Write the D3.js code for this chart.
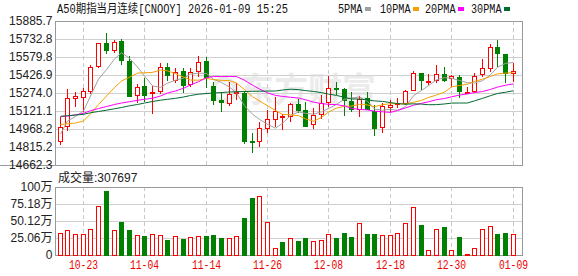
<!DOCTYPE html>
<html lang="zh">
<head>
    <meta charset="UTF-8">
    <title>A50期指当月连续</title>
    <script src="https://d3js.org/d3.v7.min.js"></script>
    <style>
        body {
            margin: 0;
            background-color: #ffffff;
        }
        svg {
            display: block;
        }
        .axis-label {
            font-family: "Liberation Sans", "Noto Sans CJK SC", sans-serif;
            font-size: 12px;
            fill: #222;
        }
        .mono {
            font-family: "Liberation Mono", "Noto Sans CJK SC", monospace;
        }
    </style>
</head>
<body>
    <div id="chart"></div>
    <script>
        // trading days shown on the chart
        const dates = [
            "2025-10-20", "2025-10-21", "2025-10-22", "2025-10-23", "2025-10-24", "2025-10-27", "2025-10-28", "2025-10-29",
            "2025-10-30", "2025-10-31", "2025-11-03", "2025-11-04", "2025-11-05", "2025-11-06", "2025-11-07", "2025-11-10",
            "2025-11-11", "2025-11-12", "2025-11-13", "2025-11-14", "2025-11-17", "2025-11-18", "2025-11-19", "2025-11-20",
            "2025-11-21", "2025-11-24", "2025-11-25", "2025-11-26", "2025-11-27", "2025-11-28", "2025-12-01", "2025-12-02",
            "2025-12-03", "2025-12-04", "2025-12-05", "2025-12-08", "2025-12-09", "2025-12-10", "2025-12-11", "2025-12-12",
            "2025-12-15", "2025-12-16", "2025-12-17", "2025-12-18", "2025-12-19", "2025-12-22", "2025-12-23", "2025-12-24",
            "2025-12-25", "2025-12-26", "2025-12-29", "2025-12-30", "2025-12-31", "2026-01-01", "2026-01-02", "2026-01-05",
            "2026-01-06", "2026-01-07", "2026-01-08", "2026-01-09"
        ];

        const opens = [
            14860.2, 14987.7, 15234.1, 15242.6, 15285.0, 15497.4, 15696.2, 15633.4, 15715.8, 15548.4,
            15259.5, 15333.5, 15271.4, 15291.0, 15492.3, 15390.4, 15460.9, 15350.5, 15455.0, 15545.9,
            15333.5, 15214.5, 15191.6, 15276.5, 15276.5, 14866.2, 14860.2, 14982.6, 15059.0, 15078.6,
            15078.6, 15180.5, 15129.6, 15010.6, 15093.0, 15191.6, 15313.9, 15305.4, 15203.5, 15144.0,
            15229.0, 15123.6, 14982.6, 15157.6, 15178.0, 15195.0, 15299.5, 15441.4, 15373.4, 15384.4,
            15432.9, 15398.9, 15407.4, 15279.9, 15293.5, 15432.9, 15492.3, 15662.3, 15605.3, 15446.5
        ];
        const highs = [
            15072.6, 15308.0, 15285.0, 15319.0, 15511.9, 15701.3, 15781.2, 15724.3, 15732.8, 15588.3,
            15347.9, 15398.9, 15333.5, 15526.3, 15526.3, 15483.8, 15483.8, 15483.8, 15588.3, 15577.3,
            15370.0, 15285.0, 15370.0, 15356.4, 15293.5, 14931.6, 15030.2, 15129.6, 15242.6, 15095.6,
            15191.6, 15220.5, 15200.1, 15144.0, 15257.0, 15418.4, 15370.0, 15313.9, 15285.0, 15248.5,
            15285.0, 15172.0, 15186.5, 15214.5, 15229.0, 15299.5, 15460.9, 15446.5, 15435.4, 15511.9,
            15492.3, 15426.9, 15426.9, 15327.5, 15446.5, 15560.3, 15690.3, 15724.3, 15605.3, 15526.3
        ];
        const lows = [
            14832.2, 14951.1, 15152.5, 15115.1, 15265.5, 15488.9, 15605.3, 15611.3, 15511.9, 15248.5,
            15186.5, 15200.1, 15095.6, 15265.5, 15378.5, 15356.4, 15276.5, 15327.5, 15407.4, 15313.9,
            15172.0, 15115.1, 15163.5, 15214.5, 14840.7, 14766.8, 14812.7, 14936.7, 14982.6, 14959.6,
            15030.2, 15101.5, 14993.6, 14965.6, 15050.5, 15157.6, 15257.0, 15078.6, 15115.1, 15072.6,
            15129.6, 14908.7, 14931.6, 15115.1, 15144.0, 15172.0, 15293.5, 15299.5, 15342.0, 15356.4,
            15370.0, 15327.5, 15229.0, 15271.4, 15276.5, 15407.4, 15455.0, 15497.4, 15361.5, 15370.0
        ];
        const closes = [
            14982.6, 15229.0, 15248.5, 15291.0, 15492.3, 15696.2, 15633.4, 15704.7, 15554.4, 15251.0,
            15327.5, 15257.0, 15282.5, 15492.3, 15426.9, 15455.0, 15342.0, 15455.0, 15534.8, 15412.5,
            15214.5, 15195.0, 15265.5, 15285.0, 14868.7, 14855.1, 14974.1, 15055.6, 15123.6, 15078.6,
            15180.5, 15129.6, 14993.6, 15084.5, 15186.5, 15313.9, 15308.0, 15214.5, 15135.5, 15225.6,
            15135.5, 14979.2, 15163.5, 15172.0, 15186.5, 15293.5, 15441.4, 15384.4, 15378.5, 15432.9,
            15384.4, 15418.4, 15285.0, 15285.0, 15421.0, 15483.8, 15667.4, 15607.9, 15446.5, 15460.9
        ];
        const volumes = [
            320000, 364000, 305000, 305000, 379000, 722000, 943000, 364000, 486000, 369000,
            290000, 280000, 305000, 290000, 221000, 275000, 236000, 265000, 280000, 280000,
            295000, 251000, 251000, 280000, 550000, 840000, 865000, 482000, 103000, 192000,
            251000, 206000, 251000, 206000, 217000, 305000, 251000, 324000, 265000, 467000,
            305000, 305000, 290000, 290000, 320000, 467000, 703000, 438000, 69000, 379000,
            413000, 69000, 265000, 10000, 99000, 379000, 423000, 305000, 324000, 307697
        ];

        // moving-average values before each window is filled by the visible closes
        const ma5Lead = [14925.7, 15036.1, 15074.3, 15121.1];
        const ma10Lead = [15006.4, 15012.3, 15019.1, 15036.1, 15095.6, 15176.3, 15248.5, 15320.7, 15375.9];
        const ma20Lead = [
            15072.6, 15078.6, 15087.1, 15101.5, 15123.6, 15142.3, 15159.3, 15176.3, 15189.0, 15200.1,
            15212.0, 15220.5, 15229.0, 15248.5, 15274.0, 15291.0, 15313.9, 15342.0, 15370.0
        ];
        const ma30Lead = [
            15076.0, 15081.1, 15087.1, 15093.0, 15106.6, 15116.8, 15127.9, 15139.8, 15150.8, 15165.2,
            15176.3, 15189.0, 15201.8, 15212.8, 15220.5, 15229.0, 15240.0, 15252.7, 15263.8, 15269.7,
            15274.0, 15278.2, 15282.5, 15285.0, 15286.7, 15288.4, 15289.3, 15290.1, 15291.0
        ];

        const priceTicks = ["14662.3", "14815.2", "14968.2", "15121.1", "15274.0", "15426.9", "15579.8", "15732.8", "15885.7"];
        const volumeTicks = [0, 250600, 501200, 751800, 1002400];
        const volumeTickLabels = ["0", "25.06万", "50.12万", "75.18万", "100万"];
        const dateLabels = ["10-23", "11-04", "11-14", "11-26", "12-08", "12-18", "12-30", "01-09"];

        const maNames = ["5PMA", "10PMA", "20PMA", "30PMA"];
        const maPeriods = [5, 10, 20, 30];
        const maColors = ["#a0a0a0", "#f5a000", "#ff00ff", "#006a30"];

        const RED = "#ff0000", GREEN = "#008000";
        const W = 578, H = 276;
        const plotL = 55, plotR = 522;
        const priceTop = 21, priceBottom = 165;
        const volTop = 187, volBottom = 255;

        const svg = d3.select("#chart").append("svg")
            .attr("width", W)
            .attr("height", H);

        const x = d3.scaleBand().domain(dates).range([56.46, 516.96]);
        const cx = d => Math.floor(x(d) + x.bandwidth() / 2);

        const y = d3.scaleLinear()
            .domain([+priceTicks[0], +priceTicks[priceTicks.length - 1]])
            .range([priceBottom, priceTop]);
        const yv = d3.scaleLinear()
            .domain([0, volumeTicks[volumeTicks.length - 1]])
            .range([volBottom, volTop]);

        const candles = dates.map((d, i) => ({
            date: d, open: opens[i], high: highs[i], low: lows[i], close: closes[i], volume: volumes[i],
            up: closes[i] >= opens[i],
            volUp: closes[i] > opens[i] || (closes[i] === opens[i] && (i === 0 || closes[i] >= closes[i - 1]))
        }));

        // title and legend
        svg.append("text")
            .attr("class", "mono")
            .attr("x", 57).attr("y", 13)
            .attr("font-size", 12)
            .attr("textLength", 231)
            .attr("lengthAdjust", "spacingAndGlyphs")
            .attr("fill", "#111")
            .text("A50期指当月连续[CNOOY] 2026-01-09 15:25");

        const legendX = [338, 380, 425, 471];
        const legend = svg.append("g");
        maNames.forEach((name, i) => {
            legend.append("text")
                .attr("class", "mono")
                .attr("x", legendX[i]).attr("y", 12.5)
                .attr("font-size", 12)
                .attr("textLength", name.length * 6.1)
                .attr("lengthAdjust", "spacingAndGlyphs")
                .attr("fill", "#111")
                .text(name);
            legend.append("rect")
                .attr("x", legendX[i] + name.length * 6.1 + 2.5).attr("y", 7)
                .attr("width", 6).attr("height", 4)
                .attr("fill", maColors[i]);
        });

        // grid
        const grid = svg.append("g");
        priceTicks.forEach(t => {
            grid.append("line")
                .attr("x1", plotL).attr("x2", plotR)
                .attr("y1", Math.round(y(+t)) + 0.5).attr("y2", Math.round(y(+t)) + 0.5)
                .attr("stroke", "#d0d0d0");
        });
        volumeTicks.forEach(t => {
            grid.append("line")
                .attr("x1", plotL).attr("x2", plotR)
                .attr("y1", Math.round(yv(t)) + 0.5).attr("y2", Math.round(yv(t)) + 0.5)
                .attr("stroke", "#d0d0d0");
        });
        const labelDates = dates.filter(d => dateLabels.includes(d.slice(5)));
        labelDates.forEach(d => {
            [[priceTop, priceBottom], [volTop, volBottom]].forEach(([a, b]) => {
                grid.append("line")
                    .attr("x1", cx(d) + 0.5).attr("x2", cx(d) + 0.5)
                    .attr("y1", a).attr("y2", b)
                    .attr("stroke", "#c8c8c8")
                    .attr("stroke-dasharray", "4,3");
            });
        });

        // watermark
        const mark = svg.append("g").attr("opacity", 0.55);
        mark.append("circle")
            .attr("cx", 224).attr("cy", 90).attr("r", 11)
            .attr("fill", "none").attr("stroke", "#dcdcdc").attr("stroke-width", 5);
        mark.append("text")
            .attr("x", 240).attr("y", 102)
            .attr("font-family", "Noto Sans CJK SC")
            .attr("font-size", 34)
            .attr("font-weight", "bold")
            .attr("fill", "#dcdcdc")
            .text("东方财富");

        // borders
        svg.append("rect")
            .attr("x", plotL + 0.5).attr("y", priceTop + 0.5)
            .attr("width", plotR - plotL).attr("height", priceBottom - priceTop)
            .attr("fill", "none").attr("stroke", "#999");
        svg.append("line")
            .attr("x1", 0).attr("x2", plotR + 0.5)
            .attr("y1", priceBottom + 0.5).attr("y2", priceBottom + 0.5)
            .attr("stroke", "#999");
        svg.append("rect")
            .attr("x", plotL + 0.5).attr("y", volTop + 0.5)
            .attr("width", plotR - plotL).attr("height", volBottom - volTop)
            .attr("fill", "none").attr("stroke", "#999");

        // axis labels
        priceTicks.forEach(t => {
            svg.append("text")
                .attr("class", "axis-label")
                .attr("x", 52.5).attr("y", y(+t))
                .attr("dy", "0.36em")
                .attr("text-anchor", "end")
                .text(t);
        });
        volumeTicks.forEach((t, i) => {
            svg.append("text")
                .attr("class", "axis-label")
                .attr("x", 52.5).attr("y", yv(t))
                .attr("dy", "0.36em")
                .attr("text-anchor", "end")
                .text(volumeTickLabels[i]);
        });
        labelDates.forEach((d, i) => {
            svg.append("text")
                .attr("class", "mono")
                .attr("x", cx(d) + 0.5).attr("y", 269)
                .attr("font-size", 12)
                .attr("text-anchor", "middle")
                .attr("textLength", 29)
                .attr("lengthAdjust", "spacingAndGlyphs")
                .attr("fill", "#ee0000")
                .text(d.slice(5));
        });

        svg.append("text")
            .attr("class", "axis-label")
            .attr("x", 58).attr("y", 182)
            .attr("fill", "#111")
            .text("成交量:" + volumes[volumes.length - 1]);

        // candlesticks
        const candle = svg.append("g").selectAll("g")
            .data(candles)
            .enter().append("g");

        candle.append("line")
            .attr("x1", d => cx(d.date) + 0.5).attr("x2", d => cx(d.date) + 0.5)
            .attr("y1", d => Math.round(y(d.high))).attr("y2", d => Math.round(y(d.low)))
            .attr("stroke", d => d.up ? RED : GREEN);

        candle.append("rect")
            .attr("x", d => cx(d.date) - 1.5)
            .attr("y", d => Math.round(y(Math.max(d.open, d.close))) + 0.5)
            .attr("width", 4)
            .attr("height", d => Math.max(1, Math.round(Math.abs(y(d.open) - y(d.close)))))
            .attr("fill", d => d.up ? "#fff" : GREEN)
            .attr("stroke", d => d.up ? RED : GREEN);

        // moving averages
        const line = d3.line()
            .x(d => cx(d.date) + 0.5)
            .y(d => y(d.value));
        const leads = [ma5Lead, ma10Lead, ma20Lead, ma30Lead];
        maPeriods.forEach((n, k) => {
            const values = closes.map((c, i) => ({
                date: dates[i],
                value: i < n - 1 ? leads[k][i] : d3.mean(closes.slice(i - n + 1, i + 1))
            }));
            svg.append("path")
                .datum(values)
                .attr("fill", "none")
                .attr("stroke", maColors[k])
                .attr("stroke-width", 1)
                .attr("d", line);
        });

        // volume bars
        svg.append("g").selectAll("rect")
            .data(candles)
            .enter().append("rect")
            .attr("x", d => cx(d.date) - 1.5)
            .attr("y", d => Math.round(yv(d.volume)) + 0.5)
            .attr("width", 4)
            .attr("height", d => Math.max(0, volBottom - Math.round(yv(d.volume))))
            .attr("fill", d => d.volUp ? "#fff" : GREEN)
            .attr("stroke", d => d.volUp ? RED : GREEN);
    </script>
</body>
</html>
